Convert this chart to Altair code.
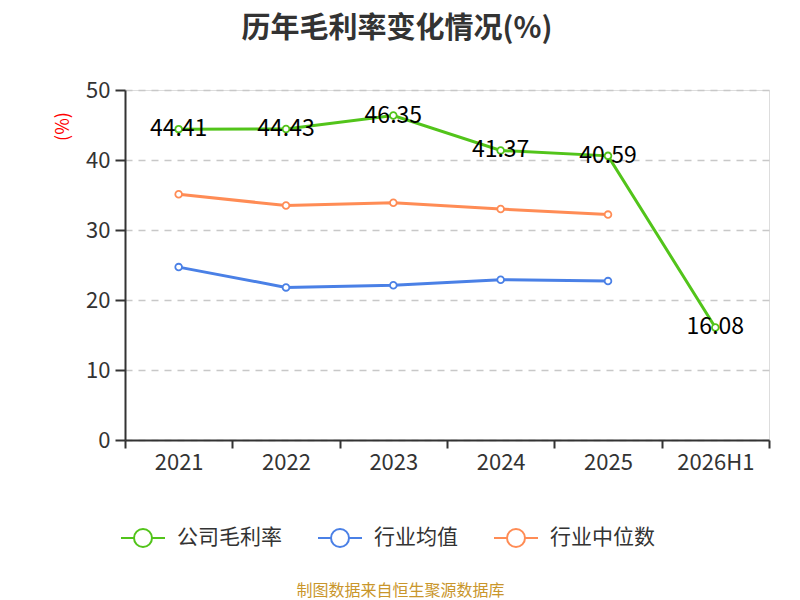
import altair as alt
import pandas as pd

years = ["2021", "2022", "2023", "2024", "2025", "2026H1"]
company = [44.41, 44.43, 46.35, 41.37, 40.59, 16.08]
industry_avg = [24.7, 21.8, 22.1, 22.9, 22.7, None]
industry_median = [35.1, 33.5, 33.9, 33.0, 32.2, None]

series_names = ["公司毛利率", "行业均值", "行业中位数"]
series_colors = ["#52c41a", "#4a80e6", "#ff8c55"]

rows = []
for name, vals in zip(series_names, [company, industry_avg, industry_median]):
    for y, v in zip(years, vals):
        if v is not None:
            rows.append({"year": y, "series": name, "value": v})
df = pd.DataFrame(rows)
label_df = pd.DataFrame({"year": years, "value": company,
                         "label": [f"{v:.2f}" for v in company]})

FONT = "Noto Sans CJK SC"

x_enc = alt.X("year:N", sort=years,
              scale=alt.Scale(type="band", domain=years, paddingInner=0, paddingOuter=0),
              axis=alt.Axis(title="制图数据来自恒生聚源数据库", titleColor="#c9962b",
                            titleFontSize=16, titleFontWeight="normal", titleFont=FONT,
                            titleX=275, titleY=150, titleAnchor="middle", titleAlign="center",
                            titleBaseline="middle",
                            labelAngle=0, labelFontSize=22, labelColor="#333333", labelFont=FONT,
                            labelPadding=4, tickBand="extent", tickSize=8, tickWidth=2,
                            tickColor="#333333", domainColor="#333333", domainWidth=2,
                            grid=False))
y_enc = alt.Y("value:Q",
              scale=alt.Scale(domain=[0, 50], nice=False),
              axis=alt.Axis(title="(%)", titleColor="red", titleFontSize=18,
                            titleFontWeight="normal", titleFont=FONT,
                            titleX=-62, titleY=36, titleAngle=-90,
                            titleAlign="center", titleBaseline="middle",
                            values=[0, 10, 20, 30, 40, 50],
                            labelFontSize=22, labelColor="#333333", labelFont=FONT,
                            labelPadding=5, tickSize=10, tickWidth=2, tickColor="#333333",
                            domainColor="#333333", domainWidth=2,
                            grid=True, gridColor="#c8c8c8", gridDash=[7, 6], gridWidth=1.5))

color_scale = alt.Scale(domain=series_names, range=series_colors)

legend = alt.Legend(title=None, orient="none", legendX=7, legendY=437,
                    direction="horizontal",
                    symbolType="M-2.2,0L-0.9,0M0.9,0L2.2,0M-0.9,0A0.9,0.9,0,1,1,0.9,0A0.9,0.9,0,1,1,-0.9,0Z",
                    symbolSize=400, symbolStrokeWidth=2, symbolFillColor="white",
                    labelFontSize=21, labelColor="#333333", labelFont=FONT,
                    labelOffset=23, columnPadding=32, padding=0)

base = alt.Chart(df).encode(x=x_enc, y=y_enc)

lines = base.mark_line(strokeWidth=3).encode(
    stroke=alt.Stroke("series:N", scale=color_scale, legend=legend, sort=series_names)
)
points = base.mark_point(filled=True, fill="white", size=45, strokeWidth=1.8, opacity=1).encode(
    stroke=alt.Stroke("series:N", scale=color_scale, legend=None)
)
labels = alt.Chart(label_df).mark_text(fontSize=23, color="black", font=FONT,
                                       baseline="middle", align="center").encode(
    x=alt.X("year:N", sort=years), y="value:Q", text="label:N"
)

chart = alt.layer(lines, points, labels).properties(
    width=644, height=350,
    autosize=alt.AutoSizeParams(type="none"),
    padding={"left": 117, "top": 82, "right": 23, "bottom": 162},
    title=alt.TitleParams("历年毛利率变化情况(%)", fontSize=29, fontWeight="bold",
                          color="#333333", font=FONT, anchor="middle", frame="group",
                          dx=-50, offset=35)
).configure_view(stroke=None).configure(font=FONT)

chart.save("out.html", embed_options={"renderer": "svg", "actions": False})
